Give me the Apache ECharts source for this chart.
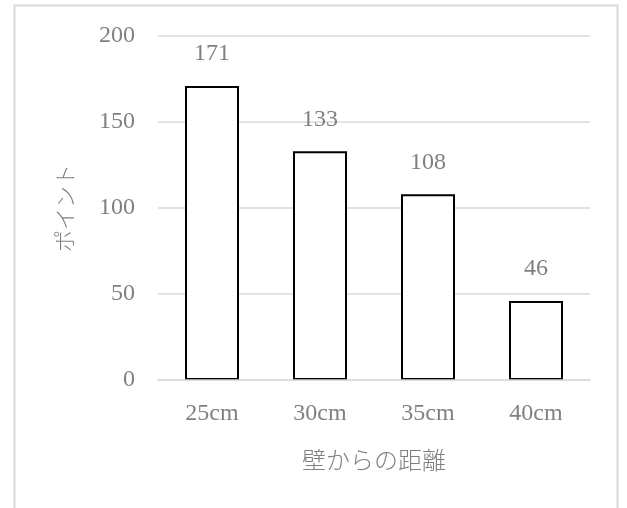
<!DOCTYPE html>
<html><head><meta charset="utf-8">
<script src="https://cdn.jsdelivr.net/npm/echarts@6/dist/echarts.min.js"></script>
<style>html,body{margin:0;padding:0;background:#fff}#c{width:627px;height:508px}</style>
</head><body><div id="c"></div>
<script>
const categories = ['25cm', '30cm', '35cm', '40cm'];
const values = [171, 133, 108, 46];
const yTicks = [0, 50, 100, 150, 200];
const xName = '壁からの距離';
const yName = 'ポイント';

const serif = '"Liberation Serif", "DejaVu Serif", serif';
const jp = '"Noto Sans CJK JP", sans-serif';
const gray = '#808080';

const chart = echarts.init(document.getElementById('c'), null, {renderer: 'canvas'});
chart.setOption({
  animation: false,
  backgroundColor: '#fff',
  graphic: [{
    type: 'rect', shape: {x: 14.5, y: 5.5, width: 603, height: 520},
    style: {fill: 'none', stroke: '#d9d9d9', lineWidth: 2}, silent: true, z: -1
  }],
  grid: {left: 158, right: 37, top: 36, bottom: 128, containLabel: false},
  xAxis: {
    type: 'category', data: categories, z: 5,
    axisLine: {show: true, lineStyle: {color: '#d9d9d9', width: 1.5}},
    axisTick: {show: false},
    axisLabel: {color: gray, fontFamily: serif, fontSize: 24, margin: 22},
    name: xName, nameLocation: 'middle', nameGap: 68,
    nameTextStyle: {color: gray, fontFamily: jp, fontSize: 24, fontWeight: 300}
  },
  yAxis: {
    type: 'value', min: yTicks[0], max: yTicks[yTicks.length - 1], interval: 50,
    axisLine: {show: false}, axisTick: {show: false},
    splitLine: {lineStyle: {color: '#d9d9d9', width: 1.5}},
    axisLabel: {color: gray, fontFamily: serif, fontSize: 24, margin: 23},
    name: yName, nameLocation: 'middle', nameGap: 82, nameRotate: 90,
    nameTextStyle: {color: gray, fontFamily: jp, fontSize: 22, fontWeight: 300}
  },
  series: [{
    type: 'bar', data: values, barWidth: 54,
    itemStyle: {color: '#fff', borderColor: '#000', borderWidth: 2},
    label: {show: true, position: 'top', distance: 20, color: gray, fontFamily: serif, fontSize: 24}
  }]
});
</script></body></html>
